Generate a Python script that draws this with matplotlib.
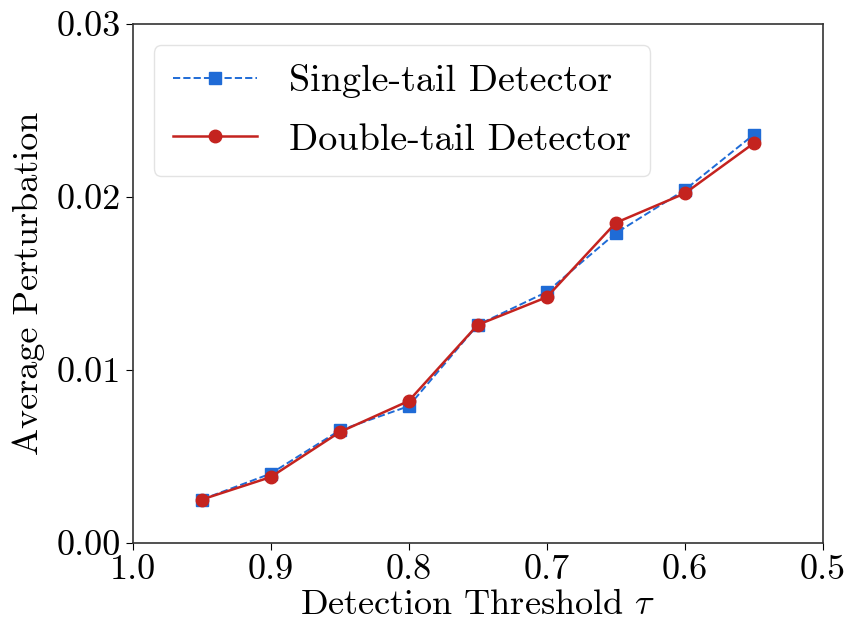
import matplotlib
matplotlib.use("Agg")
import matplotlib.pyplot as plt

plt.rcParams['font.family'] = ['cmr10', 'DejaVu Serif']
plt.rcParams['mathtext.fontset'] = 'cm'
plt.rcParams['axes.formatter.use_mathtext'] = True

thresholds = [0.95, 0.90, 0.85, 0.80, 0.75, 0.70, 0.65, 0.60, 0.55]
single_tail = [0.0025, 0.0040, 0.0065, 0.0079, 0.0126, 0.0145, 0.0179, 0.0204, 0.0236]
double_tail = [0.0025, 0.0038, 0.0064, 0.0082, 0.0126, 0.0142, 0.0185, 0.0202, 0.0231]
xticks = [1.0, 0.9, 0.8, 0.7, 0.6, 0.5]
yticks = [0.00, 0.01, 0.02, 0.03]

fig = plt.figure(figsize=(8.5, 6.29), dpi=100)
ax = fig.add_axes([0.156, 0.137, 0.812, 0.825])

ax.plot(thresholds, single_tail, linestyle='--', marker='s', color='#1f6bd6',
        markersize=9, linewidth=1.4, label='Single-tail Detector')
ax.plot(thresholds, double_tail, linestyle='-', marker='o', color='#c4231f',
        markersize=9, linewidth=1.8, label='Double-tail Detector')

ax.set_xlim(1.0, 0.5)
ax.set_ylim(0.0, 0.03)
ax.set_xticks(xticks)
ax.set_yticks(yticks)
ax.set_xticklabels([f'{v:.1f}' for v in xticks])
ax.set_yticklabels([f'{v:.2f}' for v in yticks])
ax.tick_params(labelsize=26, length=5)

ax.set_xlabel(r'Detection Threshold $\tau$', fontsize=26, labelpad=2)
ax.set_ylabel('Average Perturbation', fontsize=26, labelpad=8)

for s in ax.spines.values():
    s.set_linewidth(1.2)
    s.set_color('#333333')

ax.legend(loc='upper left', fontsize=27.5, frameon=True, fancybox=True,
          edgecolor='#dddddd', handlelength=2.2, handletextpad=0.85,
          borderaxespad=0.55, labelspacing=0.65, borderpad=0.5)

fig.savefig('out.png', dpi=100)
